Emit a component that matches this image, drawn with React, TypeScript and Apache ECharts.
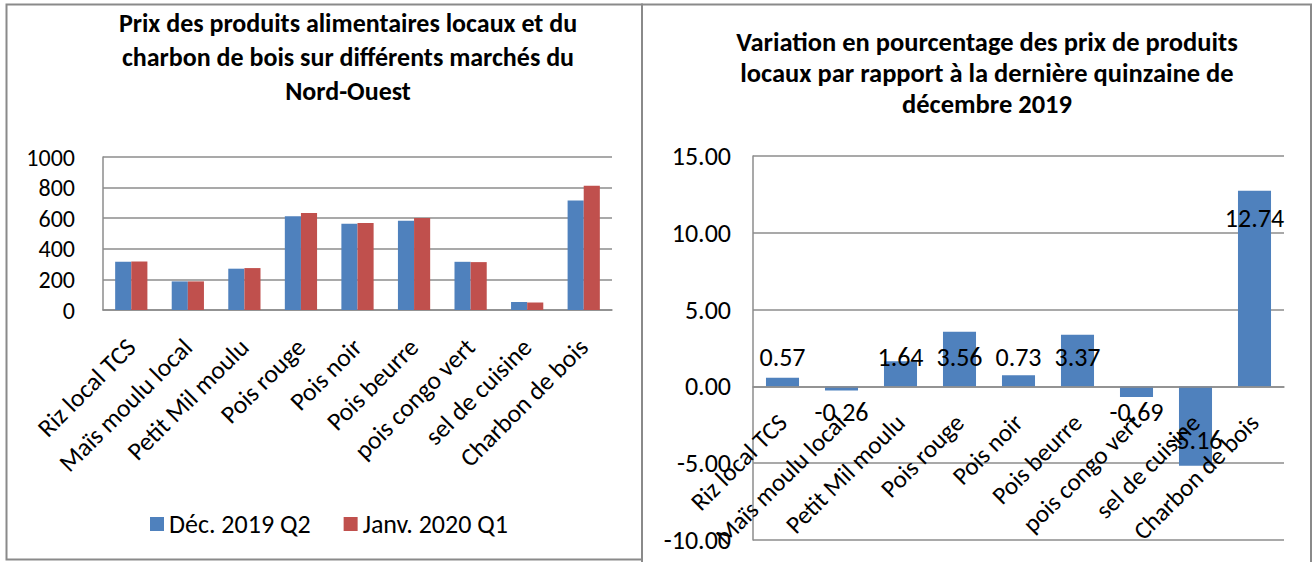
import React, { useEffect, useRef } from "react";
import * as echarts from "echarts";

const categories = [
  "Riz local TCS",
  "Maïs moulu local",
  "Petit Mil moulu",
  "Pois rouge",
  "Pois noir",
  "Pois beurre",
  "pois congo vert",
  "sel de cuisine",
  "Charbon de bois",
];
const seriesNames = ["Déc. 2019 Q2", "Janv. 2020 Q1"];
const dec2019Q2 = [315, 187, 270, 612, 564, 583, 315, 52, 716];
const janv2020Q1 = [317, 187, 274, 634, 568, 602, 313, 49, 812];
const pctChange = [0.57, -0.26, 1.64, 3.56, 0.73, 3.37, -0.69, -5.16, 12.74];

const leftTitle =
  "Prix des produits alimentaires locaux et du\ncharbon de bois sur différents marchés du\nNord-Ouest";
const rightTitle =
  "Variation en pourcentage des prix de produits\nlocaux par rapport à la dernière quinzaine de\ndécembre 2019";

const FONT = "Carlito, Calibri, Lato, 'Noto Sans', sans-serif";
const BLUE = "#4F81BD";
const RED = "#C0504D";
const GRID = "#8c8c8c";
const BORDER = "#8a8a8a";

const RIGHT_TOP = 156;
const RIGHT_HEIGHT = 384;
const RIGHT_MIN = -10;
const RIGHT_MAX = 15;
// distance from grid bottom to the zero line, so the labels sit under the zero axis
const zeroOffset = (RIGHT_HEIGHT * (0 - RIGHT_MIN)) / (RIGHT_MAX - RIGHT_MIN);

export default function App() {
  const ref = useRef<HTMLDivElement>(null);

  useEffect(() => {
    if (!ref.current) return;
    const chart = echarts.init(ref.current, null, { renderer: "svg" });
    const option: any = {
      animation: false,
      backgroundColor: "#ffffff",
      textStyle: { fontFamily: FONT, color: "#000" },
      title: [
        {
          text: leftTitle,
          left: 343,
          top: 1,
          textAlign: "center",
          textStyle: {
            fontFamily: FONT,
            fontSize: 26,
            fontWeight: "bold",
            color: "#000",
            lineHeight: 34,
            align: "center",
          },
        },
        {
          text: rightTitle,
          left: 982,
          top: 21,
          textAlign: "center",
          textStyle: {
            fontFamily: FONT,
            fontSize: 26.5,
            fontWeight: "bold",
            color: "#000",
            lineHeight: 31,
            align: "center",
          },
        },
      ],
      legend: {
        left: 145,
        top: 506,
        itemWidth: 14,
        itemHeight: 14,
        itemGap: 33,
        icon: "rect",
        textStyle: { fontFamily: FONT, fontSize: 26, color: "#000" },
        data: seriesNames,
      },
      grid: [
        { left: 103, top: 157, width: 509, height: 153, outerBoundsMode: "none", containLabel: false },
        {
          left: 753,
          top: RIGHT_TOP,
          width: 531,
          height: RIGHT_HEIGHT,
          outerBoundsMode: "none",
          containLabel: false,
        },
      ],
      xAxis: [
        {
          type: "category",
          gridIndex: 0,
          data: categories,
          axisTick: { show: false },
          axisLine: { lineStyle: { color: GRID, width: 1.5 } },
          axisLabel: {
            interval: 0,
            rotate: 45,
            margin: 33,
            fontSize: 25.5,
            color: "#000",
            fontFamily: FONT,
          },
        },
        {
          type: "category",
          gridIndex: 1,
          z: 5,
          data: categories,
          axisTick: { show: false },
          axisLine: { onZero: true, lineStyle: { color: GRID, width: 1.5 } },
          axisLabel: {
            interval: 0,
            rotate: 45,
            margin: 32 - zeroOffset,
            fontSize: 25,
            color: "#000",
            fontFamily: FONT,
          },
        },
      ],
      yAxis: [
        {
          type: "value",
          gridIndex: 0,
          min: 0,
          max: 1000,
          interval: 200,
          axisLine: { show: true, lineStyle: { color: GRID, width: 1.5 } },
          axisTick: { show: false },
          splitLine: { lineStyle: { color: GRID, width: 1.5 } },
          axisLabel: {
            fontSize: 24,
            color: "#000",
            margin: 28,
            fontFamily: FONT,
            formatter: (v: number) => String(v),
          },
        },
        {
          type: "value",
          gridIndex: 1,
          min: RIGHT_MIN,
          max: RIGHT_MAX,
          interval: 5,
          axisLine: { show: true, onZero: false, lineStyle: { color: GRID, width: 1.5 } },
          axisTick: { show: false },
          splitLine: { lineStyle: { color: GRID, width: 1.5 } },
          axisLabel: {
            fontSize: 26,
            color: "#000",
            margin: 22,
            fontFamily: FONT,
            formatter: (v: number) => v.toFixed(2),
          },
        },
      ],
      series: [
        {
          name: seriesNames[0],
          type: "bar",
          xAxisIndex: 0,
          yAxisIndex: 0,
          data: dec2019Q2,
          itemStyle: { color: BLUE },
          barGap: "0%",
          barCategoryGap: "43%",
        },
        {
          name: seriesNames[1],
          type: "bar",
          xAxisIndex: 0,
          yAxisIndex: 0,
          data: janv2020Q1,
          itemStyle: { color: RED },
          barGap: "0%",
          barCategoryGap: "43%",
        },
        {
          name: "Variation",
          type: "bar",
          xAxisIndex: 1,
          yAxisIndex: 1,
          data: pctChange,
          itemStyle: { color: BLUE },
          barCategoryGap: "44%",
          label: {
            show: true,
            position: "inside",
            fontSize: 26,
            color: "#000",
            fontFamily: FONT,
            formatter: (p: any) => Number(p.value).toFixed(2),
          },
          labelLayout: (p: any) => {
            if (p.seriesIndex !== 2) return {};
            const v = pctChange[p.dataIndex];
            const r = p.rect;
            const top = Math.min(r.y, r.y + r.height);
            const bottom = Math.max(r.y, r.y + r.height);
            const cx = r.x + r.width / 2;
            let y;
            if (v >= 0) {
              y = Math.min(top + 27, bottom - 29);
            } else {
              y = Math.max(bottom - 26, top + 26);
            }
            return { x: cx, y, align: "center", verticalAlign: "middle" };
          },
        },
      ],
      graphic: [
        {
          type: "rect",
          shape: { x: 6.5, y: 4.5, width: 635.5, height: 555 },
          style: { fill: "none", stroke: BORDER, lineWidth: 2 },
          silent: true,
        },
        {
          type: "rect",
          shape: { x: 642, y: 4.5, width: 669, height: 565 },
          style: { fill: "none", stroke: BORDER, lineWidth: 2 },
          silent: true,
        },
      ],
    };
    chart.setOption(option);
    return () => chart.dispose();
  }, []);

  return (
    <div
      ref={ref}
      style={{
        position: "fixed",
        left: 0,
        top: 0,
        width: 1313,
        height: 562,
        background: "#fff",
      }}
    />
  );
}
